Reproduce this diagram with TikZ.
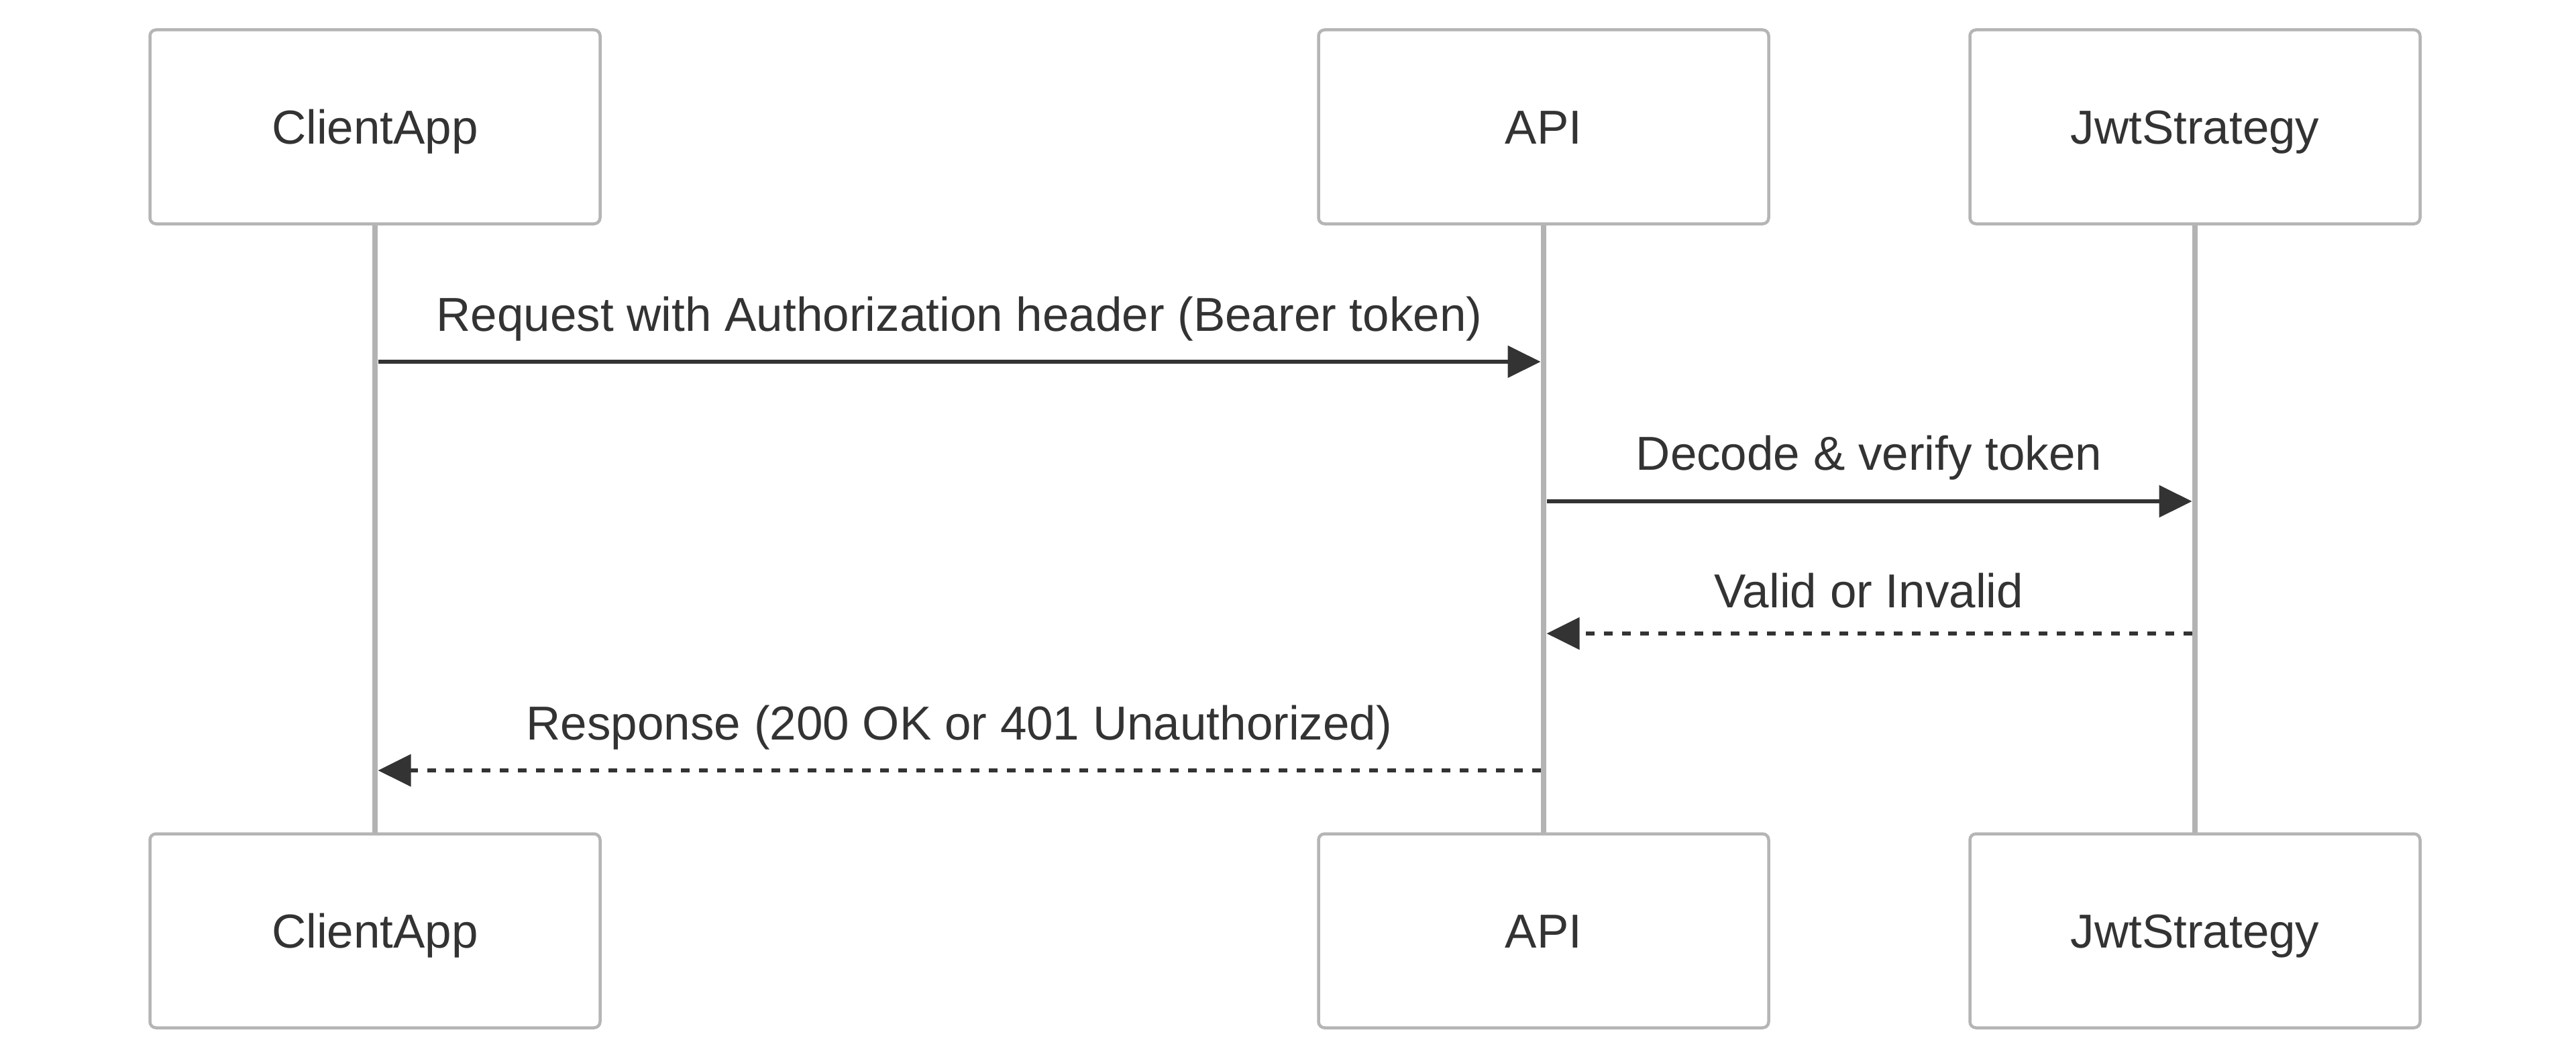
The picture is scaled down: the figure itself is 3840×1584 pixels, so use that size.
\documentclass[tikz,border=0pt]{standalone}
\usepackage{fontspec}
\setmainfont{Liberation Sans}
\usetikzlibrary{arrows.meta}
\definecolor{txt}{HTML}{333333}
\definecolor{boxline}{HTML}{B5B5B5}
\definecolor{life}{HTML}{B3B3B3}
\begin{document}
\begin{tikzpicture}[x=1pt,y=-1pt,
  actor/.style={draw=boxline, line width=4.5pt, fill=white, rounded corners=9pt,
    minimum width=671pt, minimum height=289pt, inner sep=0pt, text=txt,
    text height=51pt, text depth=0pt,
    font=\fontsize{71}{85}\selectfont},
  lifeline/.style={draw=life, line width=8.5pt},
  msg/.style={draw=txt, line width=6pt, -{Triangle[length=49pt,width=47pt]}},
  reply/.style={msg, dash pattern=on 13pt off 14pt},
  lbl/.style={text=txt, font=\fontsize{71}{85}\selectfont, inner sep=0pt, anchor=base}]
\useasboundingbox (0,0) rectangle (3840,1584);
\fill[white] (0,0) rectangle (3840,1584);
% lifelines (drawn first)
\coordinate (cx) at (559,0);
\coordinate (ax) at (2301,0);
\coordinate (jx) at (3272,0);
\draw[lifeline] (cx |- 0,333) -- (cx |- 0,1242);
\draw[lifeline] (ax |- 0,333) -- (ax |- 0,1242);
\draw[lifeline] (jx |- 0,333) -- (jx |- 0,1242);
% participants
\node[actor] (cT) at (559,189) {ClientApp};
\node[actor] (aT) at (2301,189) {API};
\node[actor] (jT) at (3272,189) {JwtStrategy};
\node[actor] (cB) at (559,1387) {ClientApp};
\node[actor] (aB) at (2301,1387) {API};
\node[actor] (jB) at (3272,1387) {JwtStrategy};
% message rows
\coordinate (y1) at (0,539);
\coordinate (y2) at (0,747);
\coordinate (y3) at (0,944);
\coordinate (y4) at (0,1148);
\draw[msg] ([xshift=4.5pt]cT.south |- y1) -- ([xshift=-4.5pt]aT.south |- y1);
\node[lbl] (l1) at (1430,493) {Request with Authorization header (Bearer token)};
\draw[msg] ([xshift=4.5pt]aT.south |- y2) -- ([xshift=-4.5pt]jT.south |- y2);
\node[lbl] (l2) at (2786,700) {Decode \& verify token};
\draw[reply] ([xshift=-4.5pt]jT.south |- y3) -- ([xshift=4.5pt]aT.south |- y3);
\node[lbl] (l3) at (2786,905) {Valid or Invalid};
\draw[reply] ([xshift=-4.5pt]aT.south |- y4) -- ([xshift=4.5pt]cT.south |- y4);
\node[lbl] (l4) at (1430,1102) {Response (200 OK or 401 Unauthorized)};
\end{tikzpicture}
\end{document}
